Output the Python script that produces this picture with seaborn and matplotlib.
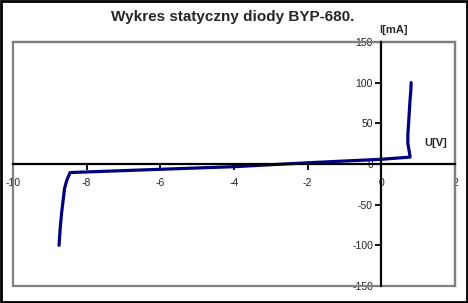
import matplotlib
matplotlib.use("Agg")
import matplotlib.pyplot as plt
import seaborn as sns
import pandas as pd
from matplotlib.patches import Rectangle

# Data (voltage U [V], current I [mA])
U = [-8.75, -8.72, -8.68, -8.64, -8.6, -8.54, -8.45, -6.0, -4.0, -2.0, 0.0, 0.5, 0.78, 0.76, 0.72, 0.72, 0.74, 0.78, 0.8, 0.81]
I = [-100, -80, -60, -45, -30, -20, -10.5, -6.5, -3.3, 1.5, 5.8, 7.5, 8.5, 15, 25, 36, 50, 79, 90, 100]
x_ticks = [-10, -8, -6, -4, -2, 0, 2]
y_ticks = [-150, -100, -50, 0, 50, 100, 150]
title = "Wykres statyczny diody BYP-680."
x_label = "U[V]"
y_label = "I[mA]"

sns.set_style("white")
plt.rcParams['font.family'] = ['Liberation Sans', 'DejaVu Sans']

df = pd.DataFrame({"U": U, "I": I})

fig = plt.figure(figsize=(4.68, 3.03), dpi=100)
ax = fig.add_axes([13/468, 17/303, 442/468, 244/303])
sns.lineplot(data=df, x="U", y="I", sort=False, estimator=None, color="#000080",
             linewidth=2.3, ax=ax)

ax.set_xlim(-10, 2)
ax.set_ylim(-150, 150)
ax.set_xticks(x_ticks)
ax.set_yticks(y_ticks)
ax.set_xticklabels([str(v) for v in x_ticks])
ax.set_yticklabels([str(v) for v in y_ticks])
ax.set_xlabel("")
ax.set_ylabel("")

for s in ["top", "right"]:
    ax.spines[s].set_color("#808080")
    ax.spines[s].set_linewidth(1.6)
for s in ["left", "bottom"]:
    ax.spines[s].set_position("zero")
    ax.spines[s].set_color("black")
    ax.spines[s].set_linewidth(1.6)
    ax.spines[s].set_zorder(3)

# gray frame left & bottom edges
ax.add_patch(Rectangle((0, 0), 1, 1, transform=ax.transAxes, fill=False,
                       edgecolor="#808080", linewidth=1.6, zorder=1, clip_on=False))

ax.tick_params(axis="both", which="both", direction="out", length=4, width=1.3,
               color="black", labelsize=7.5, labelcolor="#222222", pad=2)
ax.tick_params(axis="x", pad=6)
ax.tick_params(left=True, bottom=True)

fig.text(0.497, 1 - 17/303, title, ha="center", va="center", fontsize=11, fontweight="bold")
fig.text(393/468, 1 - 30/303, y_label, ha="center", va="center", fontsize=8, fontweight="bold")
fig.text(436/468, 1 - 143/303, x_label, ha="center", va="center", fontsize=8, fontweight="bold")

# outer black border
fig.patches.append(Rectangle((0.002, 0.003), 0.995, 0.993, transform=fig.transFigure,
                             fill=False, edgecolor="black", linewidth=2))

fig.savefig("out.png", dpi=100)
